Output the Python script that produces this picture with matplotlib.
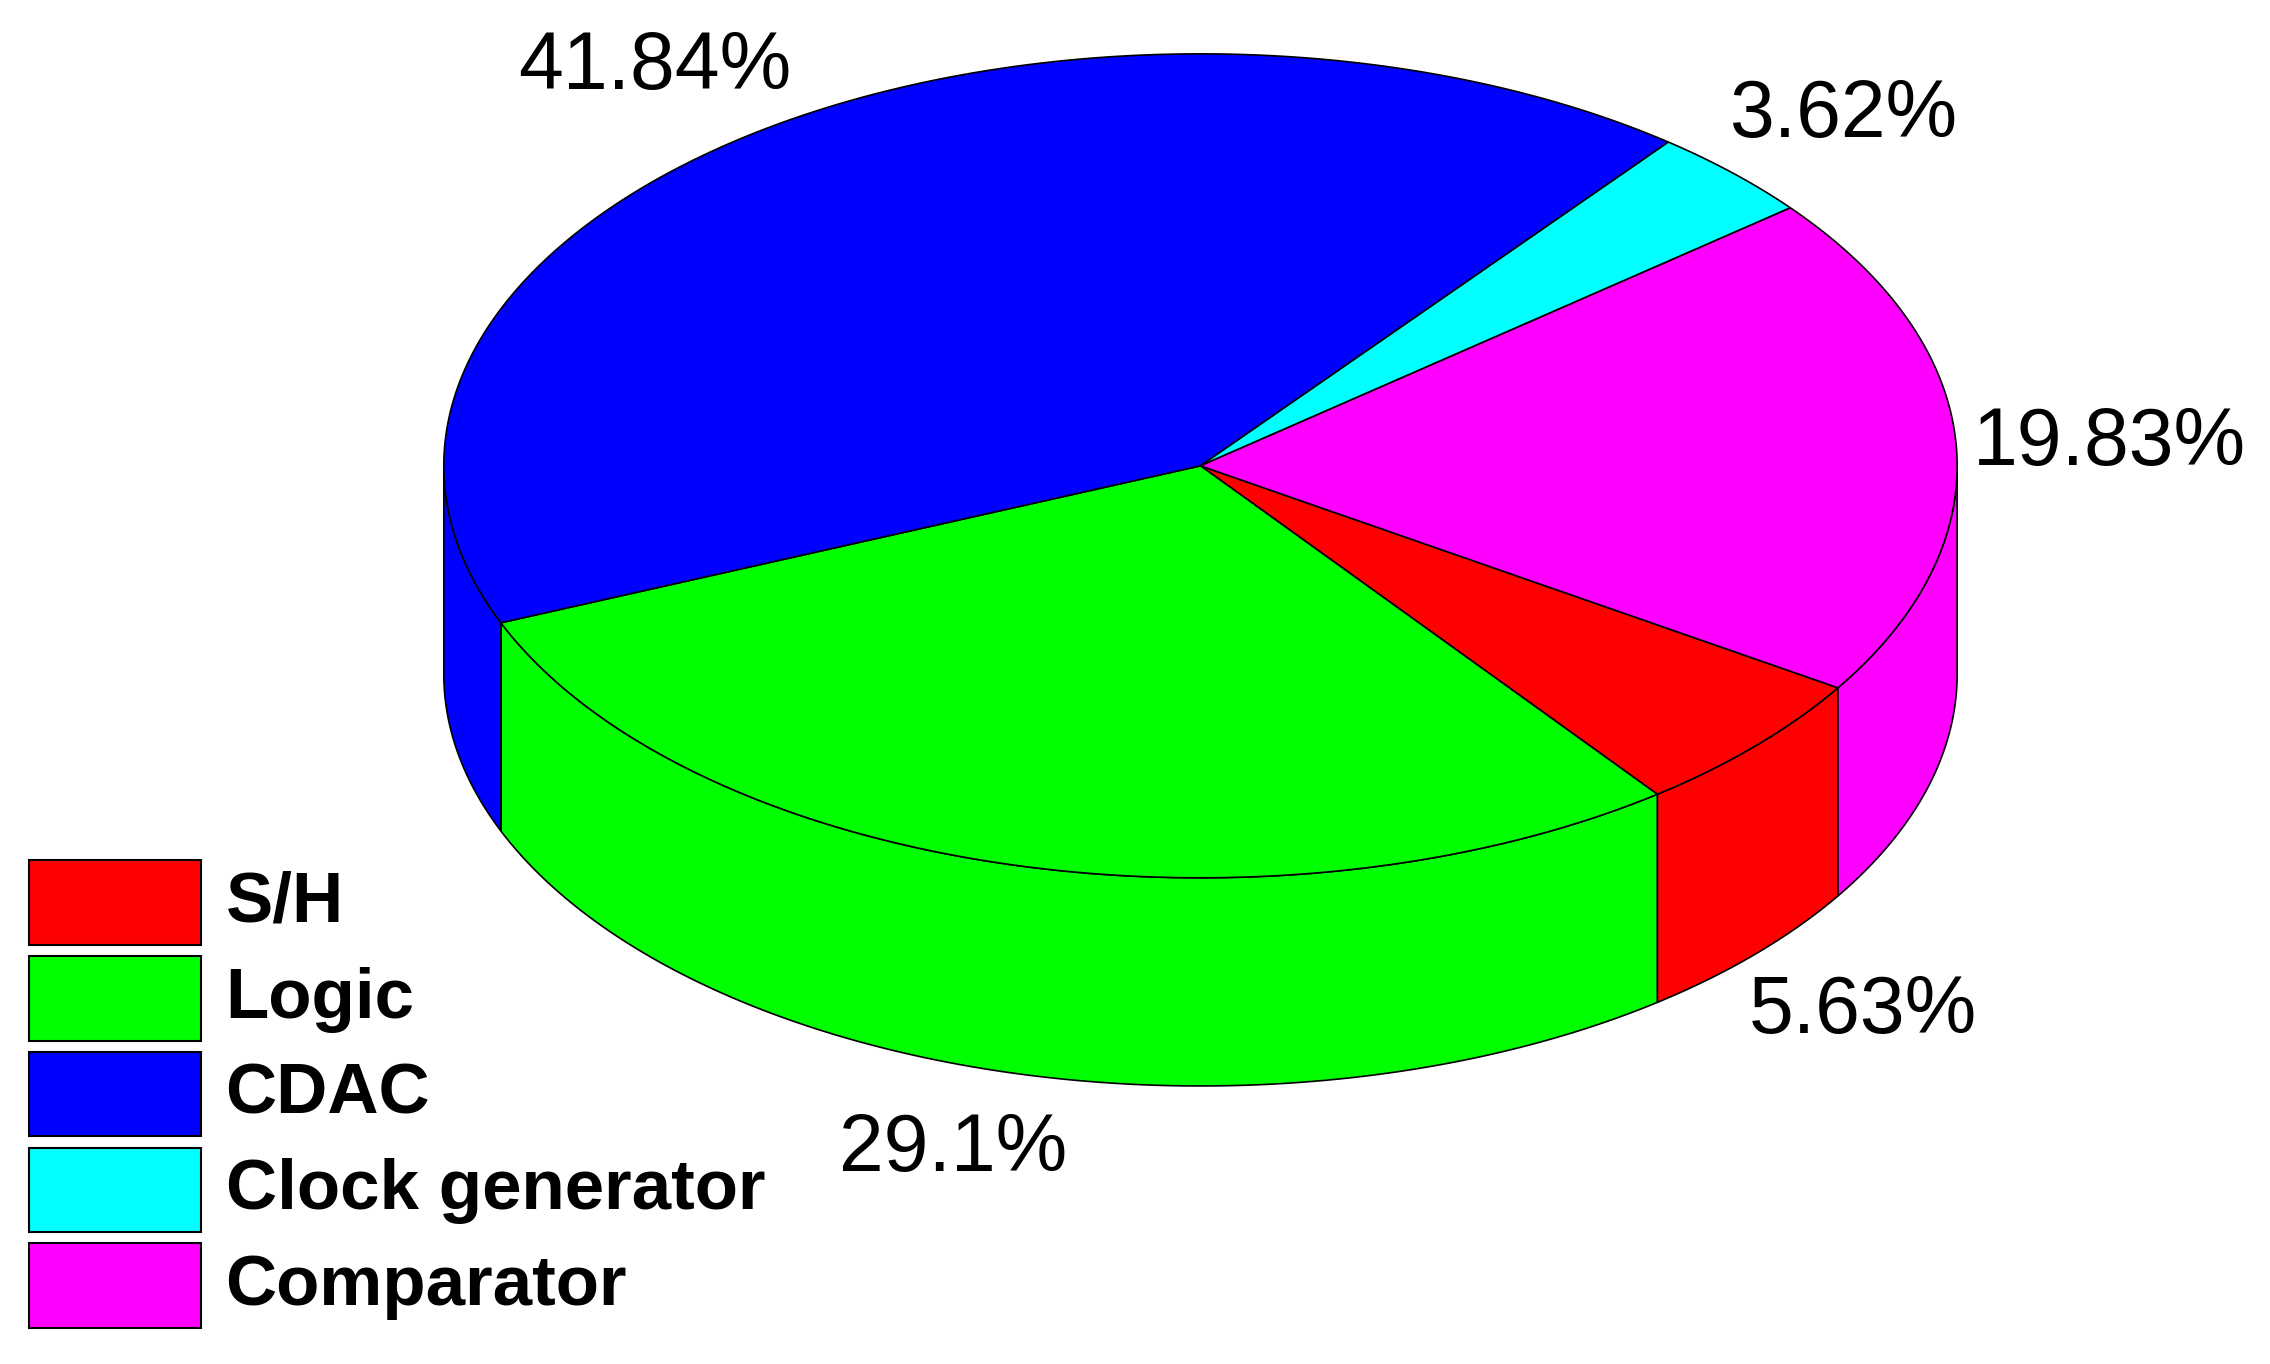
import numpy as np
import matplotlib
matplotlib.use("Agg")
import matplotlib.pyplot as plt
from matplotlib.patches import Polygon, Rectangle

labels = ["S/H", "Logic", "CDAC", "Clock generator", "Comparator"]
values = [5.63, 29.1, 41.84, 3.62, 19.83]
colors = ["#ff0000", "#00ff00", "#0000ff", "#00ffff", "#ff00ff"]
pct_text = ["5.63%", "29.1%", "41.84%", "3.62%", "19.83%"]
label_pos = [(1280, 695), (655, 790), (450, 47), (1267, 80), (1450, 305)]

W, H = 1560, 937
fig = plt.figure(figsize=(22.7, 13.64), dpi=100)
ax = fig.add_axes([0, 0, 1, 1])
ax.set_xlim(0, W)
ax.set_ylim(H, 0)
ax.axis("off")

cx, cy, rx, ry, depth = 825, 320, 520, 283, 143
start = -32.6
fr = np.array(values) / np.sum(values) * 360
bounds = []
a = start
for f in fr:
    bounds.append((a - f, a))  # clockwise
    a -= f

def pt(t, dz=0):
    r = np.radians(t)
    return cx + rx * np.cos(r), cy - ry * np.sin(r) + dz

# side walls (front half: sin<0 -> angle in (-180,0) mod 360)
for (a0, a1), c in zip(bounds, colors):
    for k in range(-2, 2):
        lo, hi = max(a0, -180 + 360 * k), min(a1, 0 + 360 * k)
        if hi > lo:
            ts = np.linspace(lo, hi, 200)
            top = [pt(t) for t in ts]
            bot = [pt(t, depth) for t in ts[::-1]]
            ax.add_patch(Polygon(top + bot, closed=True, fc=c, ec="black", lw=1.2, zorder=1))

# top faces
for (a0, a1), c in zip(bounds, colors):
    ts = np.linspace(a0, a1, 300)
    poly = [(cx, cy)] + [pt(t) for t in ts]
    ax.add_patch(Polygon(poly, closed=True, fc=c, ec="black", lw=1.2, zorder=2))

for txt, (x, y) in zip(pct_text, label_pos):
    ax.text(x, y, txt, fontsize=58, family="Liberation Sans", ha="center", va="center", zorder=5)

# legend
for i, (lab, c) in enumerate(zip(labels, colors)):
    y0 = 591 + i * 65.8
    ax.add_patch(Rectangle((20, y0), 118, 58, fc=c, ec="black", lw=1.5, zorder=5))
    ax.text(155, y0 + 30, lab, fontsize=51, fontweight="bold", family="Liberation Sans",
            ha="left", va="center", zorder=5)

fig.savefig("out.png", dpi=100, facecolor="white")
